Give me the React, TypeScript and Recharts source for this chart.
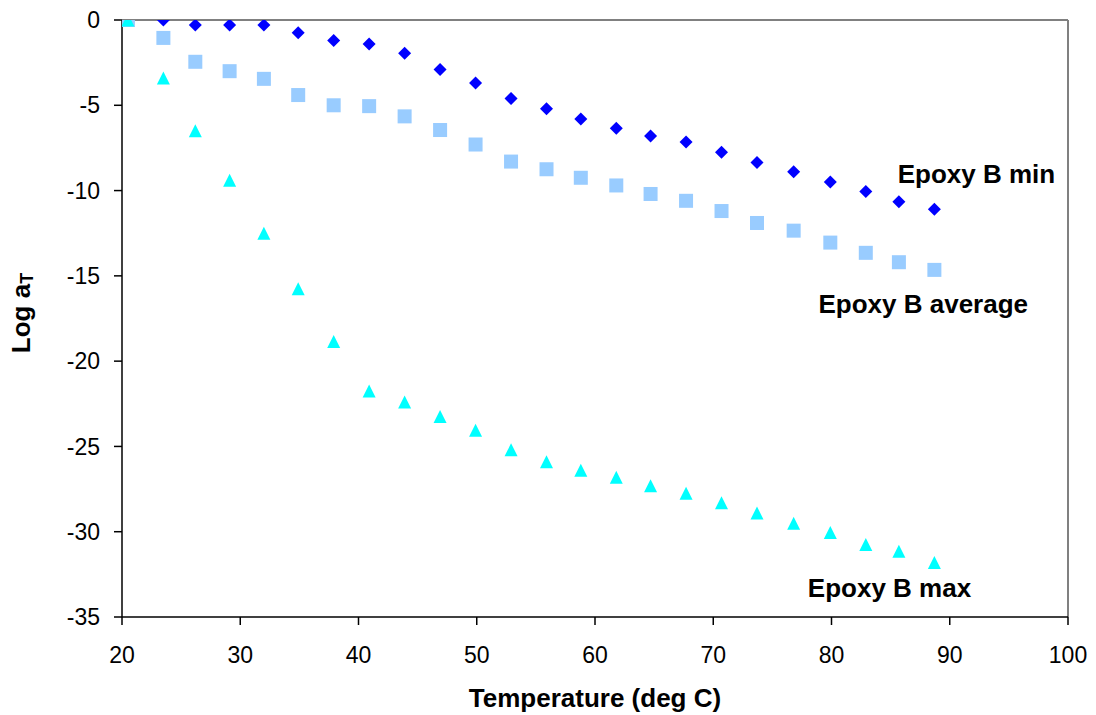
import { ScatterChart, Scatter, XAxis, YAxis, ReferenceLine, ReferenceDot } from 'recharts';

const temperature = [
  20.5, 23.5, 26.2, 29.1, 32.0, 34.9, 37.9, 40.9, 43.9, 46.9, 49.9, 52.9,
  55.9, 58.8, 61.8, 64.7, 67.7, 70.7, 73.7, 76.8, 79.9, 82.9, 85.7, 88.7,
];
const epoxyMin = [
  0, 0, -0.3, -0.3, -0.3, -0.75, -1.2, -1.4, -1.95, -2.9, -3.7, -4.6,
  -5.2, -5.8, -6.35, -6.8, -7.15, -7.75, -8.35, -8.9, -9.5, -10.05, -10.65, -11.1,
];
const epoxyAverage = [
  0, -1.05, -2.45, -3.0, -3.45, -4.4, -5.0, -5.05, -5.65, -6.45, -7.3, -8.3,
  -8.75, -9.25, -9.7, -10.2, -10.6, -11.2, -11.9, -12.35, -13.05, -13.65, -14.2, -14.65,
];
const epoxyMax = [
  0, -3.4, -6.5, -9.4, -12.5, -15.75, -18.85, -21.75, -22.4, -23.25, -24.05, -25.2,
  -25.9, -26.4, -26.8, -27.3, -27.75, -28.3, -28.9, -29.5, -30.05, -30.75, -31.15, -31.8,
];
const xTicks = [20, 30, 40, 50, 60, 70, 80, 90, 100];
const yTicks = [0, -5, -10, -15, -20, -25, -30, -35];

// series name tags, anchored in data space (text start / baseline)
const seriesTags = [
  { text: 'Epoxy B min', x: 85.6, y: -9.58 },
  { text: 'Epoxy B average', x: 78.9, y: -17.15 },
  { text: 'Epoxy B max', x: 78.0, y: -33.85 },
];

const toPoints = (ys: number[]) => temperature.map((x, i) => ({ x, y: ys[i] }));

const FONT = '"Liberation Sans", Arial, sans-serif';

const Diamond = ({ cx, cy }: any) => (
  <polygon points={`${cx},${cy - 6.5} ${cx + 6.5},${cy} ${cx},${cy + 6.5} ${cx - 6.5},${cy}`} fill="#0000FF" />
);
const Square = ({ cx, cy }: any) => (
  <rect x={cx - 7} y={cy - 7} width={14} height={14} fill="#99CCFF" />
);
const Triangle = ({ cx, cy }: any) => (
  <polygon points={`${cx},${cy - 6.5} ${cx + 6.5},${cy + 6.5} ${cx - 6.5},${cy + 6.5}`} fill="#00FFFF" />
);

const tagLabel = (text: string) => (props: any) => {
  const { x, y } = props.viewBox;
  return (
    <text x={x} y={y} fontFamily={FONT} fontSize={26} fontWeight="bold" fill="#000">
      {text}
    </text>
  );
};

const yTitle = () => (
  <text
    x={30}
    y={313}
    transform="rotate(-90, 30, 313)"
    textAnchor="middle"
    fontFamily={FONT}
    fontSize={26}
    fontWeight="bold"
    fill="#000"
  >
    Log a<tspan fontSize={18} dy={3}>T</tspan>
  </text>
);

const tickStyle = { fill: '#000', fontSize: 23, fontFamily: FONT };

export default function App() {
  return (
    <div style={{ position: 'absolute', left: 0, top: 0, background: '#fff' }}>
      <ScatterChart width={1096} height={715} margin={{ top: 20, right: 28, left: 0, bottom: 0 }}>
        <XAxis
          type="number"
          dataKey="x"
          domain={[20, 100]}
          ticks={xTicks}
          allowDataOverflow
          height={98}
          tickSize={8}
          tickMargin={22}
          axisLine={{ stroke: '#000', strokeWidth: 1.5 }}
          tickLine={{ stroke: '#000', strokeWidth: 1.5 }}
          tick={tickStyle}
          label={{
            value: 'Temperature (deg C)',
            position: 'insideBottom',
            offset: 8,
            fill: '#000',
            fontSize: 26,
            fontWeight: 'bold',
            fontFamily: FONT,
          }}
        />
        <YAxis
          type="number"
          dataKey="y"
          domain={[-35, 0]}
          ticks={yTicks}
          allowDataOverflow
          width={122}
          tickSize={8}
          tickMargin={14}
          axisLine={{ stroke: '#000', strokeWidth: 1.5 }}
          tickLine={{ stroke: '#000', strokeWidth: 1.5 }}
          tick={tickStyle}
          label={yTitle}
        />
        <ReferenceLine y={0} stroke="#808080" strokeWidth={2} />
        <ReferenceLine x={100} stroke="#808080" strokeWidth={2} />
        <Scatter name="Epoxy B min" data={toPoints(epoxyMin)} shape={Diamond} isAnimationActive={false} />
        <Scatter name="Epoxy B average" data={toPoints(epoxyAverage)} shape={Square} isAnimationActive={false} />
        <Scatter name="Epoxy B max" data={toPoints(epoxyMax)} shape={Triangle} isAnimationActive={false} />
        {seriesTags.map((t) => (
          <ReferenceDot key={t.text} x={t.x} y={t.y} r={0} fill="none" stroke="none" label={tagLabel(t.text)} />
        ))}
      </ScatterChart>
    </div>
  );
}
